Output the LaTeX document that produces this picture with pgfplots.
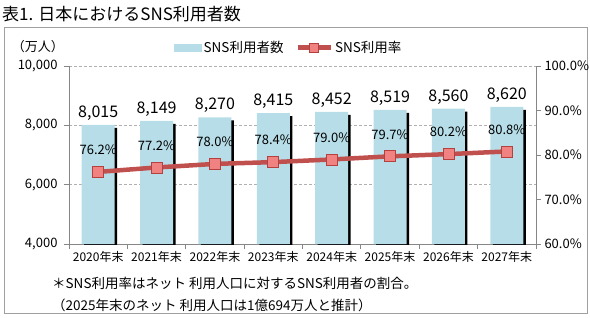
\documentclass[border=0pt]{standalone}
\usepackage{fontspec}
\setmainfont{Noto Sans CJK JP}
\usepackage{pgfplots}
\usepackage{pgfplotstable}
\pgfplotsset{compat=1.18}

\definecolor{barblue}{HTML}{B7DEE8}
\definecolor{linered}{HTML}{C0504D}
\definecolor{markred}{HTML}{F08282}
\definecolor{markedge}{HTML}{B5403D}
\definecolor{axisgray}{HTML}{868686}
\definecolor{framegray}{HTML}{A0A0A0}
\definecolor{gridgray}{HTML}{B0B0B0}

% year index, SNS users (10k persons), SNS usage rate (%)
\pgfplotstableread{
x users rate
0 8015 76.2
1 8149 77.2
2 8270 78.0
3 8415 78.4
4 8452 79.0
5 8519 79.7
6 8560 80.2
7 8620 80.8
}\snsdata

\pgfkeys{/pgf/number format/1000 sep={,}}

\pgfplotsset{
  snsgeom/.style={
    at={(69pt,73pt)}, anchor=south west,
    scale only axis, width=467pt, height=178pt,
    xmin=-0.5, xmax=7.5,
    /pgf/number format/assume math mode=true,
    axis line style={axisgray, line width=0.8pt, -},
    tick align=outside,
    tick style={axisgray, line width=0.8pt},
    major tick length=5pt,
    minor tick length=5pt,
    ticklabel style={font=\fontsize{13}{15}\selectfont, text=black},
  },
}

\begin{document}
\begin{tikzpicture}[x=1pt,y=1pt]
\useasboundingbox (0,0) rectangle (590,317);
\draw[framegray, line width=0.9pt] (4,4) rectangle (587,290);
\node[anchor=west, inner sep=0pt, font=\fontsize{17}{20}\selectfont] at (2,303) {表1. 日本におけるSNS利用者数};
\node[inner sep=0pt, font=\fontsize{13}{15}\selectfont] at (38,270) {（万人）};

% users: bars on the left axis
\begin{axis}[
  snsgeom,
  ymin=4000, ymax=10000,
  axis x line*=bottom, axis y line*=left,
  scaled y ticks=false,
  ytick={4000,6000,8000,10000},
  yticklabel style={xshift=-3pt},
  xtick={0,...,7},
  xticklabels={2020年末,2021年末,2022年末,2023年末,2024年末,2025年末,2026年末,2027年末},
  xticklabel style={font=\fontsize{12}{14}\selectfont, yshift=1.5pt},
  major x tick style={draw=none},
  minor xtick={-0.5,0.5,...,7.5},
  ymajorgrids,
  major grid style={gridgray, dash pattern=on 3pt off 2pt, line width=0.6pt},
  legend style={at={(axis description cs:0.225,1.104)}, anchor=west,
    draw=none, fill=none, inner sep=0pt,
    font=\fontsize{13.5}{16}\selectfont,
    /tikz/every even column/.append style={column sep=10pt}},
  legend columns=2,
]
\addplot[ybar, bar width=33pt, fill=barblue, draw=none, forget plot,
  preaction={fill=black, transform canvas={xshift=2.5pt, yshift=-3pt}},
  point meta=y,
  nodes near coords,
  nodes near coords style={font=\fontsize{16}{18}\selectfont, text=black, anchor=south, yshift=1pt},
] table[x=x, y=users] \snsdata;
\addlegendimage{legend image code/.code={\fill[barblue] (0pt,-3.5pt) rectangle (27pt,3.5pt);}}
\addlegendentry{SNS利用者数}
\addlegendimage{legend image code/.code={
  \draw[linered, line width=4.5pt] (0pt,0pt) -- (33pt,0pt);
  \draw[draw=markedge, fill=markred, line width=0.7pt] (12pt,-4.5pt) rectangle (21pt,4.5pt);}}
\addlegendentry{SNS利用率}
\end{axis}

% usage rate: line on the right axis
\begin{axis}[
  snsgeom,
  ymin=60, ymax=100,
  axis x line=none, axis y line*=right,
  ytick={60,70,...,100},
  yticklabel={\pgfmathprintnumber[fixed,fixed zerofill,precision=1]{\tick}\%},
]
\addplot[linered, line width=4.5pt,
  mark=square*, mark size=5.5pt,
  mark options={draw=markedge, fill=markred, line width=0.7pt},
  point meta=y,
  nodes near coords={\pgfmathprintnumber[fixed,fixed zerofill,precision=1]{\pgfplotspointmeta}\%},
  nodes near coords style={font=\fontsize{13}{15}\selectfont, text=black, anchor=center, yshift=22pt},
] table[x=x, y=rate] \snsdata;
\end{axis}

\node[anchor=west, inner sep=0pt, font=\fontsize{13.5}{16}\selectfont] at (52,34) {＊SNS利用率はネット 利用人口に対するSNS利用者の割合。};
\node[anchor=west, inner sep=0pt, font=\fontsize{13.5}{16}\selectfont] at (52,12) {（2025年末のネット 利用人口は1億694万人と推計）};
\end{tikzpicture}
\end{document}
